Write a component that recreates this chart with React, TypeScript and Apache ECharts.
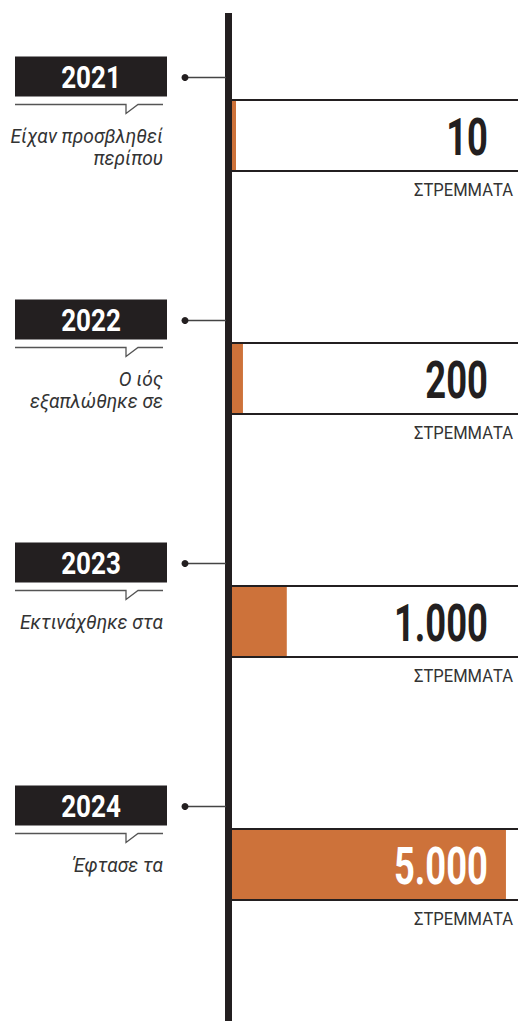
import React, { useEffect, useRef } from "react";
import * as echarts from "echarts";

const years = ["2021", "2022", "2023", "2024"];
const descriptions = [
  "Είχαν προσβληθεί\nπερίπου",
  "Ο ιός\nεξαπλώθηκε σε",
  "Εκτινάχθηκε στα",
  "Έφτασε τα",
];
const values = [10, 200, 1000, 5000];
const unitLabel = "ΣΤΡΕΜΜΑΤΑ";

const DARK = "#231f20";
const ORANGE = "#cd723a";
const FONT = "Roboto, 'Noto Sans', sans-serif";

function formatGreek(n: number): string {
  return String(Math.round(n)).replace(/\B(?=(\d{3})+(?!\d))/g, ".");
}

export default function App() {
  const ref = useRef<HTMLDivElement>(null);

  useEffect(() => {
    if (!ref.current) return;
    const chart = echarts.init(ref.current, null, { renderer: "svg" });

    const renderItem = (params: any, api: any) => {
      const idx = api.value(1);
      const v = api.value(0);
      const [x0, cy] = api.coord([0, idx]);
      const [x1] = api.coord([v, idx]);
      const cs = params.coordSys;
      const right = cs.x + cs.width;
      const barW = Math.max(x1 - x0, 4);
      const half = 35;
      const numRight = right - 30;
      const inside = x0 + barW > numRight - 60;
      const boxL = x0 - 217;
      const boxR = x0 - 65;
      const boxTop = cy - 79;
      const notchL = x0 - 106;
      const lineY = cy - 31;
      return {
        type: "group",
        children: [
          {
            type: "rect",
            shape: { x: x0, y: cy - half, width: barW, height: half * 2 },
            style: { fill: ORANGE },
          },
          {
            type: "line",
            shape: { x1: x0, y1: cy - half - 0.5, x2: right, y2: cy - half - 0.5 },
            style: { stroke: DARK, lineWidth: 2 },
          },
          {
            type: "line",
            shape: { x1: x0, y1: cy + half + 0.5, x2: right, y2: cy + half + 0.5 },
            style: { stroke: DARK, lineWidth: 2 },
          },
          {
            type: "text",
            x: numRight,
            y: cy + 2,
            scaleX: 0.7,
            style: {
              text: formatGreek(v),
              fill: inside ? "#ffffff" : DARK,
              fontFamily: FONT,
              fontWeight: "bold",
              fontSize: 52,
              align: "right",
              verticalAlign: "middle",
            },
          },
          {
            type: "text",
            x: right - 5,
            y: cy + 54,
            scaleX: 0.92,
            style: {
              text: unitLabel,
              fill: "#333333",
              fontFamily: FONT,
              fontSize: 18,
              align: "right",
              verticalAlign: "middle",
            },
          },
          {
            type: "rect",
            shape: { x: boxL, y: boxTop, width: boxR - boxL, height: 40 },
            style: { fill: DARK },
          },
          {
            type: "text",
            x: (boxL + boxR) / 2,
            y: boxTop + 21,
            scaleX: 0.84,
            style: {
              text: years[idx],
              fill: "#ffffff",
              fontFamily: FONT,
              fontWeight: "bold",
              fontSize: 31,
              align: "center",
              verticalAlign: "middle",
            },
          },
          {
            type: "line",
            shape: { x1: x0 - 47, y1: cy - 58, x2: x0 - 6, y2: cy - 58 },
            style: { stroke: "#444444", lineWidth: 1.5 },
          },
          {
            type: "circle",
            shape: { cx: x0 - 47, cy: cy - 58, r: 3.5 },
            style: { fill: DARK },
          },
          {
            type: "polyline",
            shape: {
              points: [
                [boxL, lineY],
                [notchL, lineY],
                [notchL, lineY + 9],
                [notchL + 12, lineY],
                [boxR - 4, lineY],
              ],
            },
            style: { stroke: "#555555", lineWidth: 1.3, fill: null },
          },
          {
            type: "text",
            x: boxR - 4,
            y: cy - 10,
            scaleX: 0.96,
            style: {
              text: descriptions[idx],
              fill: "#333333",
              fontFamily: FONT,
              fontStyle: "italic",
              fontSize: 20,
              lineHeight: 22,
              align: "right",
              verticalAlign: "top",
            },
          },
        ],
      };
    };

    chart.setOption({
      animation: false,
      backgroundColor: "#ffffff",
      grid: { left: 232, right: 0, top: 14, height: 972 },
      xAxis: { type: "value", min: 0, max: 5220, show: false },
      yAxis: { type: "category", data: years, inverse: true, show: false },
      graphic: [
        {
          type: "rect",
          shape: { x: 225, y: 13, width: 7, height: 1010 },
          style: { fill: DARK },
        },
      ],
      series: [
        {
          type: "custom",
          renderItem,
          data: values.map((v, i) => [v, i]),
          clip: false,
        },
      ],
    });

    return () => chart.dispose();
  }, []);

  return (
    <div
      ref={ref}
      style={{ position: "absolute", left: 0, top: 0, width: 518, height: 1021 }}
    />
  );
}
